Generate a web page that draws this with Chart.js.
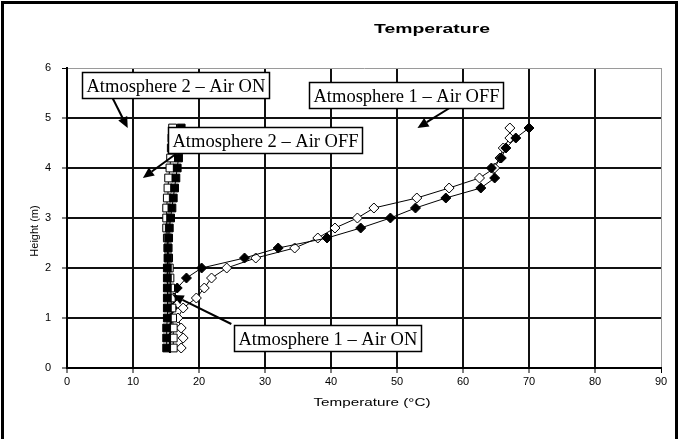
<!DOCTYPE html>
<html>
<head>
<meta charset="utf-8">
<script src="https://cdn.jsdelivr.net/npm/chart.js@4.4.1/dist/chart.umd.min.js"></script>
<style>
  html, body { margin: 0; padding: 0; background: #fff; }
  #wrap { width: 679px; height: 439px; }
</style>
</head>
<body>
<div id="wrap"><canvas id="chart" width="679" height="439"></canvas></div>
<script>
"use strict";

// heights (m) shared by all four profiles
const heights = [0.4, 0.6, 0.8, 1.0, 1.2, 1.4, 1.6, 1.8, 2.0, 2.2, 2.4, 2.6,
                 2.8, 3.0, 3.2, 3.4, 3.6, 3.8, 4.0, 4.2, 4.4, 4.6, 4.8];

// temperatures (°C)
const atm1AirOff = [15.6, 15.6, 15.7, 15.8, 16.0, 16.2, 16.7, 18.1, 20.4, 26.9, 32.0, 39.4,
                    44.5, 49.0, 52.8, 57.4, 62.7, 64.8, 64.3, 65.8, 66.5, 68.0, 70.0];
const atm1AirOn  = [17.3, 17.6, 17.3, 16.8, 17.6, 19.6, 20.8, 21.9, 24.2, 28.6, 34.5, 38.0,
                    40.6, 44.0, 46.5, 53.0, 57.9, 62.5, 64.8, 65.6, 66.1, 67.1, 67.1];
const atm2AirOff = [15.1, 15.1, 15.1, 15.2, 15.2, 15.2, 15.2, 15.2, 15.2, 15.3, 15.3, 15.4,
                    15.5, 15.7, 15.9, 16.1, 16.3, 16.5, 16.7, 16.9, 17.0, 17.1, 17.3];
const atm2AirOn  = [16.1, 16.1, 16.1, 16.0, 15.9, 15.8, 15.7, 15.6, 15.5, 15.4, 15.3, 15.2,
                    15.1, 15.1, 15.1, 15.2, 15.3, 15.4, 15.6, 15.7, 15.8, 15.9, 16.0];

const xTicks = [0, 10, 20, 30, 40, 50, 60, 70, 80, 90];
const yTicks = [0, 1, 2, 3, 4, 5, 6];

// callout boxes: top-left corner, arrow start and arrow tip, in data units
const callouts = [
  { text: "Atmosphere 2 – Air ON",  box: [2.2, 5.92],  from: [6.9, 5.4],   to: [9.2, 4.8] },
  { text: "Atmosphere 1 – Air OFF", box: [36.6, 5.72], from: [58.7, 5.26], to: [53.1, 4.8] },
  { text: "Atmosphere 2 – Air OFF", box: [15.3, 4.82], from: [16.5, 4.28], to: [11.5, 3.8] },
  { text: "Atmosphere 1 – Air ON",  box: [25.3, 0.86], from: [24.9, 0.88], to: [16.0, 1.46] },
];

const pts = (temps) => temps.map((t, i) => ({ x: t, y: heights[i] }));
const SANS = "'Liberation Sans', Arial, sans-serif";
const SERIF = "'Liberation Serif', 'Times New Roman', serif";

function series(label, temps, style, filled, radius) {
  return {
    label, data: pts(temps), showLine: true, tension: 0,
    borderColor: "#000", borderWidth: 1,
    pointStyle: style, pointRadius: radius, pointHoverRadius: radius,
    pointBackgroundColor: filled ? "#000" : "#fff",
    pointBorderColor: "#000", pointBorderWidth: 1,
  };
}

// text stretched to a given width (the original is horizontally stretched)
function fitText(ctx, text, cx, cy, font, width) {
  ctx.save();
  ctx.font = font;
  const w = ctx.measureText(text).width;
  ctx.translate(cx, cy);
  ctx.scale(width / w, 1);
  ctx.textAlign = "center";
  ctx.textBaseline = "middle";
  ctx.fillText(text, 0, 0);
  ctx.restore();
}

function arrow(ctx, x1, y1, x2, y2) {
  const ang = Math.atan2(y2 - y1, x2 - x1);
  const len = 11, half = 5;
  const bx = x2 - Math.cos(ang) * len, by = y2 - Math.sin(ang) * len;
  ctx.beginPath();
  ctx.moveTo(x1, y1);
  ctx.lineTo(bx, by);
  ctx.lineWidth = 2;
  ctx.stroke();
  ctx.beginPath();
  ctx.moveTo(x2, y2);
  ctx.lineTo(bx + Math.sin(ang) * half, by - Math.cos(ang) * half);
  ctx.lineTo(bx - Math.sin(ang) * half, by + Math.cos(ang) * half);
  ctx.closePath();
  ctx.fill();
}

const decor = {
  id: "decor",
  beforeDraw(chart) {
    const ctx = chart.ctx;
    ctx.save();
    ctx.fillStyle = "#fff";
    ctx.fillRect(0, 0, chart.width, chart.height);
    ctx.restore();
  },
  afterDraw(chart) {
    const { ctx, chartArea: a, scales: { x, y } } = chart;
    ctx.save();
    ctx.fillStyle = "#000";
    ctx.strokeStyle = "#000";

    // outer frame
    ctx.lineWidth = 3;
    ctx.strokeRect(2.5, 2.5, 674, 460);

    fitText(ctx, "Temperature", 432, 30, "bold 12px " + SANS, 116);
    fitText(ctx, "Temperature (°C)", (a.left + a.right) / 2 + 8, 403, "11px " + SANS, 117);

    ctx.save();
    ctx.translate(35, 231);
    ctx.rotate(-Math.PI / 2);
    ctx.font = "11px " + SANS;
    ctx.textAlign = "center";
    ctx.textBaseline = "middle";
    ctx.fillText("Height (m)", 0, 0);
    ctx.restore();

    // callouts
    ctx.font = "18.5px " + SERIF;
    for (const c of callouts) {
      arrow(ctx, x.getPixelForValue(c.from[0]), y.getPixelForValue(c.from[1]),
                 x.getPixelForValue(c.to[0]), y.getPixelForValue(c.to[1]));
      const bx = Math.round(x.getPixelForValue(c.box[0])) + 0.5;
      const by = Math.round(y.getPixelForValue(c.box[1])) + 0.5;
      const w = Math.round(ctx.measureText(c.text).width) + 8, h = 26;
      ctx.fillStyle = "#fff";
      ctx.fillRect(bx, by, w, h);
      ctx.lineWidth = 1.5;
      ctx.strokeRect(bx, by, w, h);
      ctx.fillStyle = "#000";
      ctx.textAlign = "left";
      ctx.textBaseline = "alphabetic";
      ctx.fillText(c.text, bx + 4, by + 19.5);
    }
    ctx.restore();
  },
};

const gridColor = (last) => (ctx) => (ctx.tick && ctx.tick.value === last ? "#9a9a9a" : "#111");
const gridWidth = (last) => (ctx) => (ctx.tick && ctx.tick.value === last ? 1 : 2);

new Chart(document.getElementById("chart"), {
  type: "scatter",
  data: {
    datasets: [
      series("Atmosphere 2 – Air OFF", atm2AirOff, "rect", true, 5.5),
      series("Atmosphere 2 – Air ON", atm2AirOn, "rect", false, 5.5),
      series("Atmosphere 1 – Air OFF", atm1AirOff, "rectRot", true, 5),
      series("Atmosphere 1 – Air ON", atm1AirOn, "rectRot", false, 5),
    ],
  },
  options: {
    responsive: false,
    animation: false,
    devicePixelRatio: 1,
    layout: { padding: { top: 68, right: 18, left: 0, bottom: 0 } },
    plugins: { legend: { display: false }, tooltip: { enabled: false } },
    scales: {
      x: {
        type: "linear", min: 0, max: 90,
        afterBuildTicks: (s) => { s.ticks = xTicks.map((v) => ({ value: v })); },
        afterFit: (s) => { s.height = 71; },
        ticks: { color: "#000", padding: 2, font: { family: SANS, size: 11 } },
        grid: { color: gridColor(90), lineWidth: gridWidth(90), tickLength: 5, tickColor: "#000", tickWidth: 1 },
        border: { display: true, color: "#000", width: 2 },
      },
      y: {
        type: "linear", min: 0, max: 6,
        afterBuildTicks: (s) => { s.ticks = yTicks.map((v) => ({ value: v })); },
        afterFit: (s) => { s.width = 67; },
        ticks: { color: "#000", padding: 11, font: { family: SANS, size: 11 } },
        grid: { color: gridColor(6), lineWidth: gridWidth(6), tickLength: 5, tickColor: "#000", tickWidth: 1 },
        border: { display: true, color: "#000", width: 2 },
      },
    },
  },
  plugins: [decor],
});
</script>
</body>
</html>
